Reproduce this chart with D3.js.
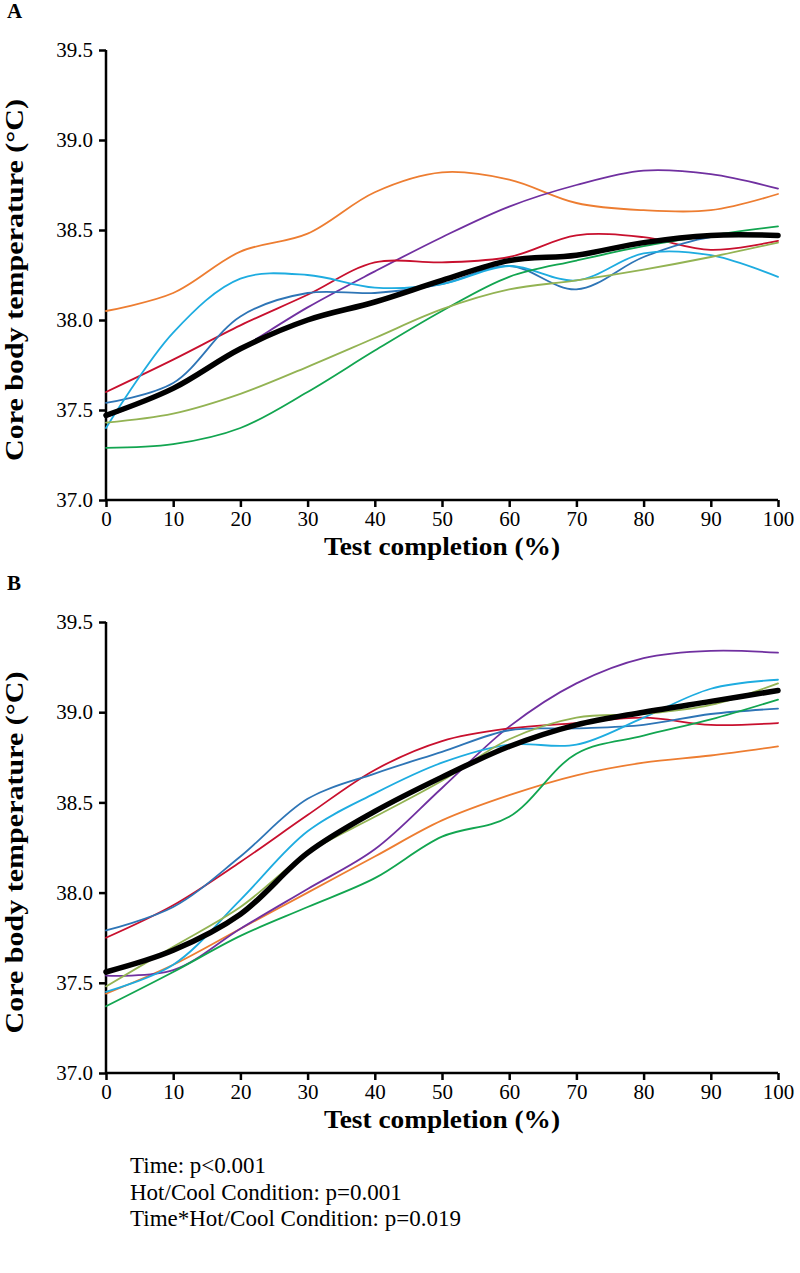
<!DOCTYPE html>
<html>
<head>
<meta charset="utf-8">
<script src="https://cdn.jsdelivr.net/npm/d3@7"></script>
<style>
  body { margin: 0; background: #fff; }
  svg text { font-family: "Liberation Serif", "Times New Roman", serif; }
</style>
</head>
<body>
<svg width="800" height="1273"></svg>
<script>
// x positions (% of test completed)
const completion = [0, 10, 20, 30, 40, 50, 60, 70, 80, 90, 100];
const yTicks = [37.0, 37.5, 38.0, 38.5, 39.0, 39.5];

const seriesNames = ['orange', 'purple', 'red', 'darkblue', 'lightblue', 'green', 'olive', 'mean'];
const seriesColors = ['#ED7D31', '#7030A0', '#C8102E', '#2E75B6', '#1EACE0', '#12A550', '#93B353', '#000000'];

// panel A values
const panelA = [
  [38.05, 38.15, 38.38, 38.48, 38.71, 38.82, 38.78, 38.65, 38.61, 38.61, 38.70],
  [37.46, 37.62, 37.84, 38.07, 38.27, 38.46, 38.63, 38.75, 38.83, 38.81, 38.73],
  [37.60, 37.78, 37.97, 38.14, 38.32, 38.32, 38.35, 38.47, 38.46, 38.39, 38.44],
  [37.54, 37.65, 38.02, 38.15, 38.15, 38.20, 38.30, 38.17, 38.35, 38.46, 38.47],
  [37.40, 37.93, 38.23, 38.25, 38.18, 38.20, 38.30, 38.22, 38.37, 38.36, 38.24],
  [37.29, 37.31, 37.40, 37.60, 37.83, 38.05, 38.24, 38.33, 38.41, 38.47, 38.52],
  [37.43, 37.48, 37.59, 37.74, 37.90, 38.06, 38.17, 38.22, 38.28, 38.35, 38.43],
  [37.47, 37.62, 37.84, 38.00, 38.10, 38.22, 38.33, 38.36, 38.43, 38.47, 38.47]
];

// panel B values
const panelB = [
  [37.44, 37.60, 37.80, 38.00, 38.20, 38.40, 38.54, 38.65, 38.72, 38.76, 38.81],
  [37.54, 37.57, 37.80, 38.02, 38.24, 38.58, 38.92, 39.16, 39.30, 39.34, 39.33],
  [37.75, 37.93, 38.17, 38.43, 38.68, 38.84, 38.91, 38.94, 38.97, 38.93, 38.94],
  [37.79, 37.92, 38.20, 38.52, 38.66, 38.78, 38.90, 38.91, 38.93, 38.99, 39.02],
  [37.45, 37.60, 37.96, 38.34, 38.55, 38.72, 38.82, 38.82, 38.97, 39.13, 39.18],
  [37.37, 37.56, 37.76, 37.92, 38.08, 38.31, 38.42, 38.77, 38.87, 38.96, 39.07],
  [37.48, 37.70, 37.92, 38.22, 38.42, 38.62, 38.85, 38.97, 38.99, 39.04, 39.16],
  [37.56, 37.68, 37.88, 38.22, 38.45, 38.64, 38.81, 38.93, 39.00, 39.06, 39.12]
];

const stats = ['Time: p<0.001', 'Hot/Cool Condition: p=0.001', 'Time*Hot/Cool Condition: p=0.019'];

const svg = d3.select('svg');
const left = 106, right = 778;

function drawPanel(letter, data, top, bottom) {
  const x = d3.scaleLinear().domain([0, 100]).range([left, right]);
  const y = d3.scaleLinear().domain([37, 39.5]).range([bottom, top]);
  const g = svg.append('g');

  g.append('text')
    .attr('x', 7).attr('y', top - 32)
    .attr('font-size', 21).attr('font-weight', 'bold')
    .text(letter);

  const yAxis = g.append('g')
    .attr('transform', `translate(${left},0)`)
    .call(d3.axisLeft(y).tickValues(yTicks).tickFormat(d3.format('.1f')).tickSize(7).tickPadding(6));
  const xAxis = g.append('g')
    .attr('transform', `translate(0,${bottom})`)
    .call(d3.axisBottom(x).tickValues(completion).tickSize(7).tickPadding(4));

  [yAxis, xAxis].forEach((ax) => {
    ax.select('.domain').attr('stroke', '#000').attr('stroke-width', 2.5);
    ax.selectAll('.tick line').attr('stroke', '#000').attr('stroke-width', 2.5);
    ax.selectAll('.tick text')
      .attr('font-family', '"Liberation Serif", serif')
      .attr('font-size', 21).attr('fill', '#000');
  });

  // the y domain path draws outer ticks; redraw it as a plain line
  yAxis.select('.domain').attr('d', `M0,${top}V${bottom}`);
  xAxis.select('.domain').attr('d', `M${left},0H${right}`);

  g.append('text')
    .attr('transform', `translate(17,${(top + bottom) / 2 + 5}) rotate(-90)`)
    .attr('text-anchor', 'middle')
    .attr('dominant-baseline', 'middle')
    .attr('font-size', 25).attr('font-weight', 'bold')
    .attr('textLength', 362).attr('lengthAdjust', 'spacingAndGlyphs')
    .text('Core body temperature (°C)');

  g.append('text')
    .attr('x', (left + right) / 2).attr('y', bottom + 55)
    .attr('text-anchor', 'middle')
    .attr('font-size', 25).attr('font-weight', 'bold')
    .attr('textLength', 236).attr('lengthAdjust', 'spacingAndGlyphs')
    .text('Test completion (%)');

  const line = d3.line()
    .x((d, i) => x(completion[i]))
    .y((d) => y(d))
    .curve(d3.curveCatmullRom.alpha(0.5));

  data.forEach((values, k) => {
    g.append('path')
      .attr('class', 'line-' + seriesNames[k])
      .attr('d', line(values))
      .attr('fill', 'none')
      .attr('stroke', seriesColors[k])
      .attr('stroke-width', seriesNames[k] === 'mean' ? 5.5 : 1.8)
      .attr('stroke-linecap', 'round');
  });
}

drawPanel('A', panelA, 50, 500);
drawPanel('B', panelB, 622, 1073);

svg.append('g').selectAll('text')
  .data(stats)
  .join('text')
  .attr('x', 130)
  .attr('y', (d, i) => 1173 + i * 26.5)
  .attr('font-size', 23)
  .text((d) => d);
</script>
</body>
</html>
